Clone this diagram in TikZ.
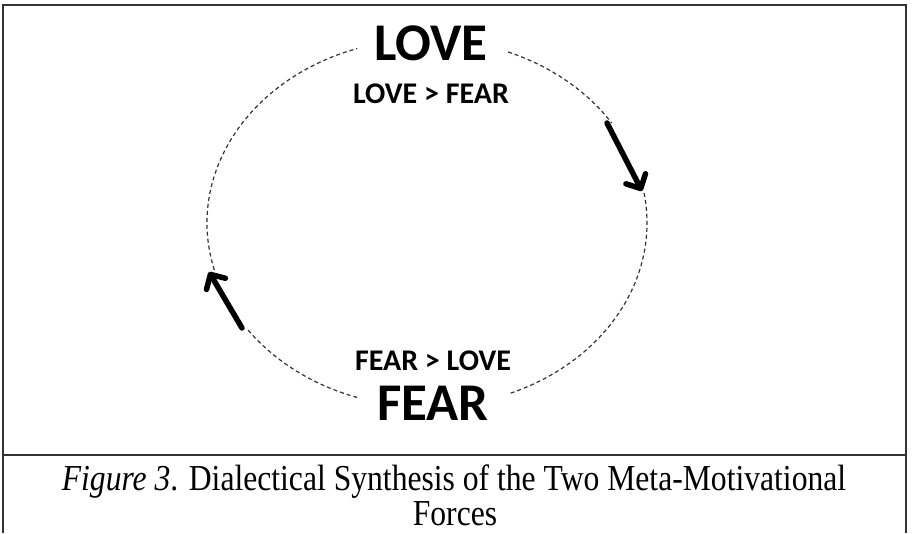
\documentclass[tikz,border=0pt]{standalone}
\usepackage{fontspec}
\setmainfont{Liberation Serif}
\newfontfamily\calibri{Carlito}
\usepackage{tikz}
\usetikzlibrary{arrows.meta}
\definecolor{frameGray}{HTML}{333333}
\tikzset{
  bigword/.style={font=\calibri\bfseries\fontsize{53}{60}\selectfont,inner sep=0pt},
  smallword/.style={font=\calibri\bfseries\fontsize{30}{36}\selectfont,inner sep=0pt},
  loop/.style={black!80,line width=1.2pt,dash pattern=on 4pt off 3pt},
  flow/.style={line width=5.5pt,line cap=round,-{Straight Barb[length=11pt,width=22pt,round]}},
  frame/.style={frameGray,line width=2pt},
  capline/.style={font=\fontsize{31}{37}\selectfont,inner sep=0pt},
}
\newcommand{\cyclearc}[2]{% start angle, end angle
  \draw[loop] (427,223) ++(#1:220 and 184) arc[start angle=#1,end angle=#2,x radius=220,y radius=184];
}

\begin{document}
\begin{tikzpicture}[x=1pt,y=-1pt]
\useasboundingbox (0,0) rectangle (912,533);
% frame and caption rule
\draw[frame] (3,533) -- (3,5) -- (906,5) -- (906,533);
\draw[frame] (3,455) -- (906,455);

% the cycle, broken at the words and the arrows
\cyclearc{-68.4}{-32.9}
\cyclearc{-9.4}{67.8}
\cyclearc{108.5}{145.2}
\cyclearc{165.2}{251.5}

% words
\node[bigword] (love) at (431,43) {LOVE};
\node[smallword] (lovefear) at (431,94) {LOVE > FEAR};
\node[smallword] (fearlove) at (433,361) {FEAR > LOVE};
\node[bigword] (fear) at (433,403) {FEAR};

% arrows on the cycle
\coordinate (rtail) at (607,123);
\coordinate (rtip) at (642,191);
\coordinate (ltail) at (242,328);
\coordinate (ltip) at (209,272);
\draw[flow] (rtail) -- (rtip);
\draw[flow] (ltail) -- (ltip);

% caption
\node[capline] (capa) at (454,482) {\scalebox{1.02}[1.18]{\textit{Figure 3}. Dialectical Synthesis of the Two Meta-Motivational}};
\node[capline] (capb) at (455,514) {\scalebox{1.02}[1.18]{Forces}};
\end{tikzpicture}
\end{document}
